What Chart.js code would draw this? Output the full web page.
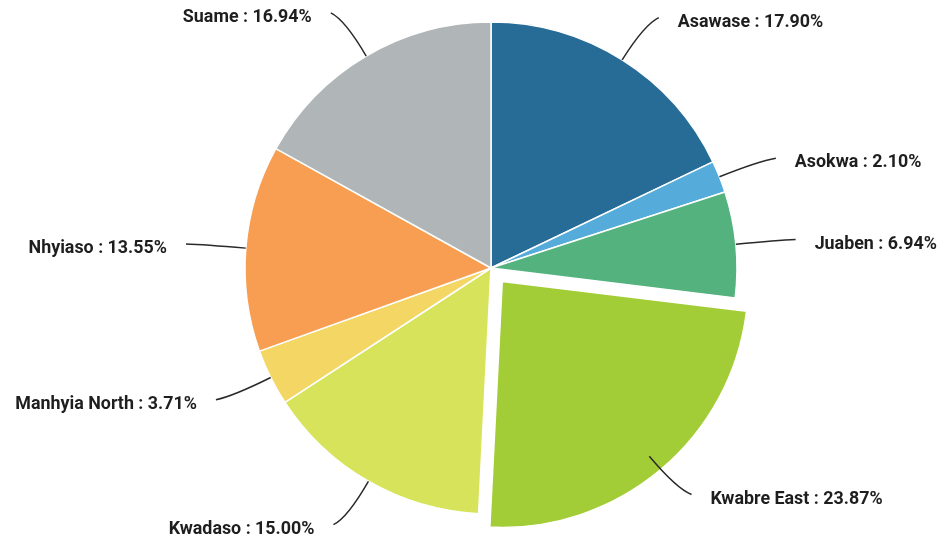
<!DOCTYPE html>
<html>
<head>
<meta charset="utf-8">
<script src="https://cdn.jsdelivr.net/npm/chart.js@4/dist/chart.umd.min.js"></script>
<style>
  html, body { margin: 0; padding: 0; background: #ffffff; }
  #wrap { width: 941px; height: 546px; }
</style>
</head>
<body>
<div id="wrap"><canvas id="c" width="941" height="546"></canvas></div>
<script>
const categories = ['Asawase', 'Asokwa', 'Juaben', 'Kwabre East', 'Kwadaso', 'Manhyia North', 'Nhyiaso', 'Suame'];
const shares = [17.90, 2.10, 6.94, 23.87, 15.00, 3.71, 13.55, 16.94];
const colors = ['#276b97', '#55acda', '#53b27e', '#a3cd36', '#d7e45b', '#f4d664', '#f89e52', '#b0b5b8'];
// Chart.js v4 arcs move by offset/4 pixels, so 70 gives a ~17px pull-out
const offsets = [0, 0, 0, 70, 0, 0, 0, 0];

const labelPlugin = {
  id: 'sliceLabels',
  afterDatasetsDraw(chart) {
    const ctx = chart.ctx;
    const meta = chart.getDatasetMeta(0);
    ctx.save();
    ctx.font = 'bold 19px Roboto, "Open Sans", sans-serif';
    ctx.textBaseline = 'alphabetic';
    const sx0 = 0.94;
    meta.data.forEach((arc, i) => {
      const p = arc.getProps(['startAngle', 'endAngle', 'outerRadius'], true);
      const mid = (p.startAngle + p.endAngle) / 2;
      const cx = chart.chartArea.left + chart.chartArea.width / 2;
      const cy = chart.chartArea.top + chart.chartArea.height / 2;
      const r = p.outerRadius;
      const ux = Math.cos(mid), uy = Math.sin(mid);
      const sx = cx + ux * r, sy = cy + uy * r;
      const c1x = sx + ux * 42, c1y = sy + uy * 42;
      const side = ux >= 0 ? 1 : -1;
      const ex = sx + ux * 50 + side * 10, ey = sy + uy * 50;
      ctx.beginPath();
      ctx.moveTo(sx, sy);
      ctx.quadraticCurveTo(c1x, c1y, ex, ey);
      ctx.strokeStyle = '#2a2a2a';
      ctx.lineWidth = 1.5;
      ctx.stroke();
      const text = categories[i] + ' : ' + shares[i].toFixed(2) + '%';
      ctx.fillStyle = '#1e1e1e';
      ctx.textAlign = side > 0 ? 'left' : 'right';
      const tx = ex + side * 19, ty = ey + 9;
      ctx.save();
      ctx.translate(tx, ty);
      ctx.scale(sx0, 1);
      ctx.fillText(text, 0, 0);
      ctx.restore();
    });
    ctx.restore();
  }
};

new Chart(document.getElementById('c'), {
  type: 'pie',
  data: {
    labels: categories,
    datasets: [{
      data: shares,
      backgroundColor: colors,
      borderColor: '#ffffff',
      borderWidth: 1.5,
      offset: offsets,
      hoverOffset: 0
    }]
  },
  options: {
    responsive: false,
    animation: false,
    events: [],
    radius: 246,
    layout: { padding: { left: 41, right: 0, top: 0, bottom: 10 } },
    plugins: { legend: { display: false }, tooltip: { enabled: false } }
  },
  plugins: [labelPlugin]
});
</script>
</body>
</html>
